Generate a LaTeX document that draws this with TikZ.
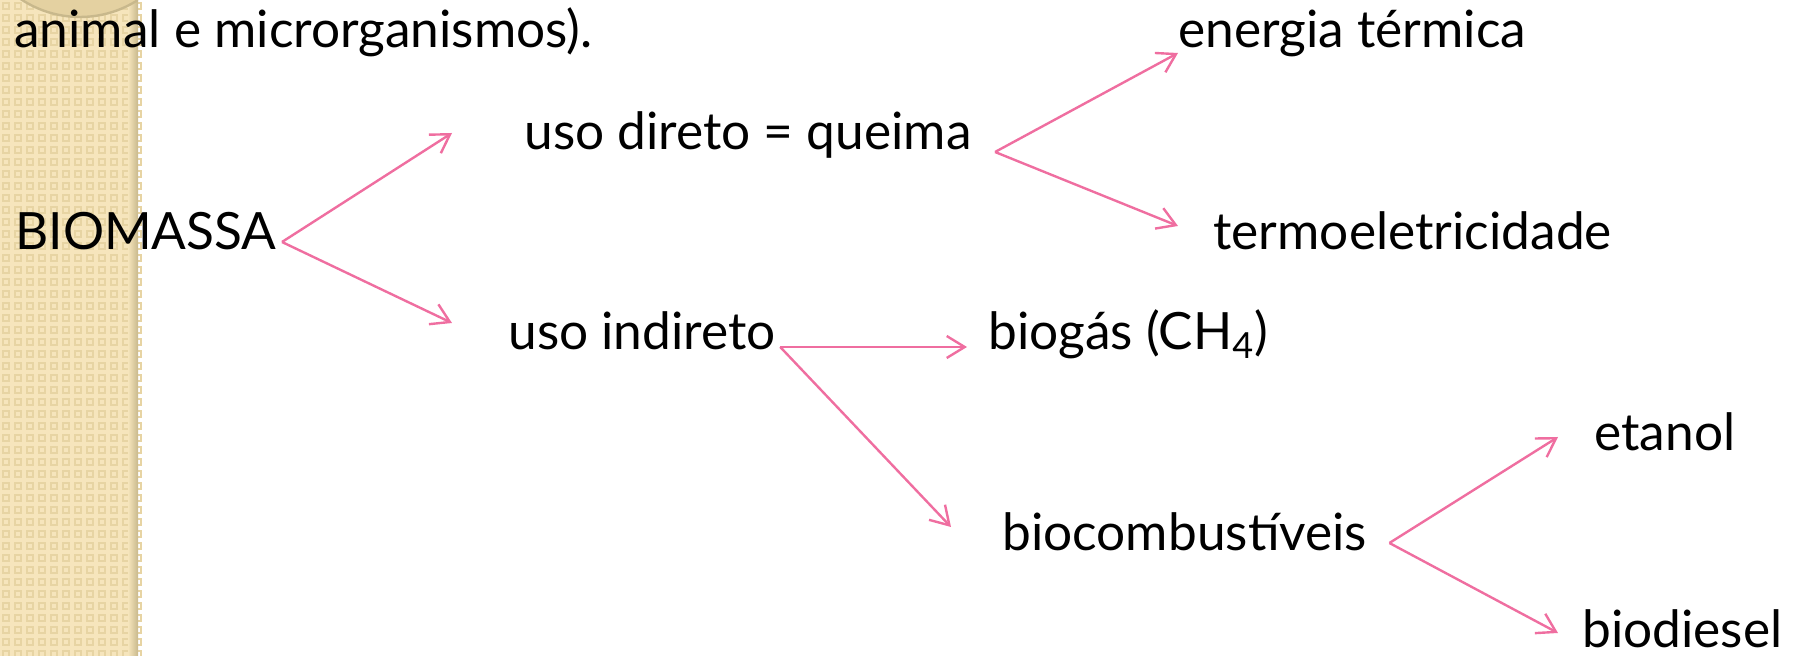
\documentclass[tikz,border=0pt]{standalone}
\usepackage{fontspec}
\setmainfont{Lato}
\usetikzlibrary{arrows.meta}
\definecolor{rosa}{RGB}{239,110,160}
\definecolor{palha}{RGB}{246,229,188}
\definecolor{palhaesc}{RGB}{231,212,163}
\definecolor{borda}{RGB}{200,184,140}

\begin{document}
\begin{tikzpicture}[x=0.5pt, y=-0.5pt,
    txt/.style={anchor=base west, inner sep=0pt, font=\fontsize{25.7}{30}\selectfont},
    seta/.style={rosa, line width=1.2pt, -{Straight Barb[length=9pt, width=11pt]}}]
    \useasboundingbox (0,0) rectangle (1798,656);

    \fill[palha] (0,0) rectangle (138,656);
    \foreach \i in {0,...,11}
        \foreach \j in {0,...,54}
            \draw[palhaesc, line width=0.7pt] (\i*12+3,\j*12+3) rectangle +(6,6);
    \shade[left color=palha, right color=borda] (128,0) rectangle (138,656);
    \begin{scope}
        \clip (0,0) rectangle (138,656);
        \filldraw[fill=palhaesc!90!borda, draw=borda, line width=1.2pt] (80,-90) circle (107);
    \end{scope}

    \node[txt] (intro) at (14,48) {animal e microrganismos).};
    \node[txt] (bio) at (15,250) {BIOMASSA};
    \node[txt] (direto) at (524,150) {uso direto = queima};
    \node[txt] (indireto) at (508,350) {uso indireto};
    \node[txt] (termica) at (1178,48) {energia térmica};
    \node[txt] (termo) at (1213,250) {termoeletricidade};
    \node[txt] (biogas) at (988,350) {biogás (CH\textsubscript{4})};
    \node[txt] (combust) at (1002,551) {biocombustíveis};
    \node[txt] (etanol) at (1594,451) {etanol};
    \node[txt] (diesel) at (1582,648) {biodiesel};

    \path[seta]
    ([shift={(5,-8)}]bio.base east) edge ([shift={(-72,-17)}]direto.base west)
    ([shift={(5,-8)}]bio.base east) edge ([shift={(-56,-27)}]indireto.base west)
    ([shift={(23,2)}]direto.base east) edge ([shift={(0,5)}]termica.base west)
    ([shift={(23,2)}]direto.base east) edge ([shift={(-35,-24)}]termo.base west)
    ([shift={(4,-3)}]indireto.base east) edge ([shift={(-21,-3)}]biogas.base west)
    ([shift={(4,-3)}]indireto.base east) edge ([shift={(-51,-24)}]combust.base west)
    ([shift={(22,-8)}]combust.base east) edge ([shift={(-36,-14)}]etanol.base west)
    ([shift={(22,-8)}]combust.base east) edge ([shift={(-24,-15)}]diesel.base west);

\end{tikzpicture}
\end{document}
